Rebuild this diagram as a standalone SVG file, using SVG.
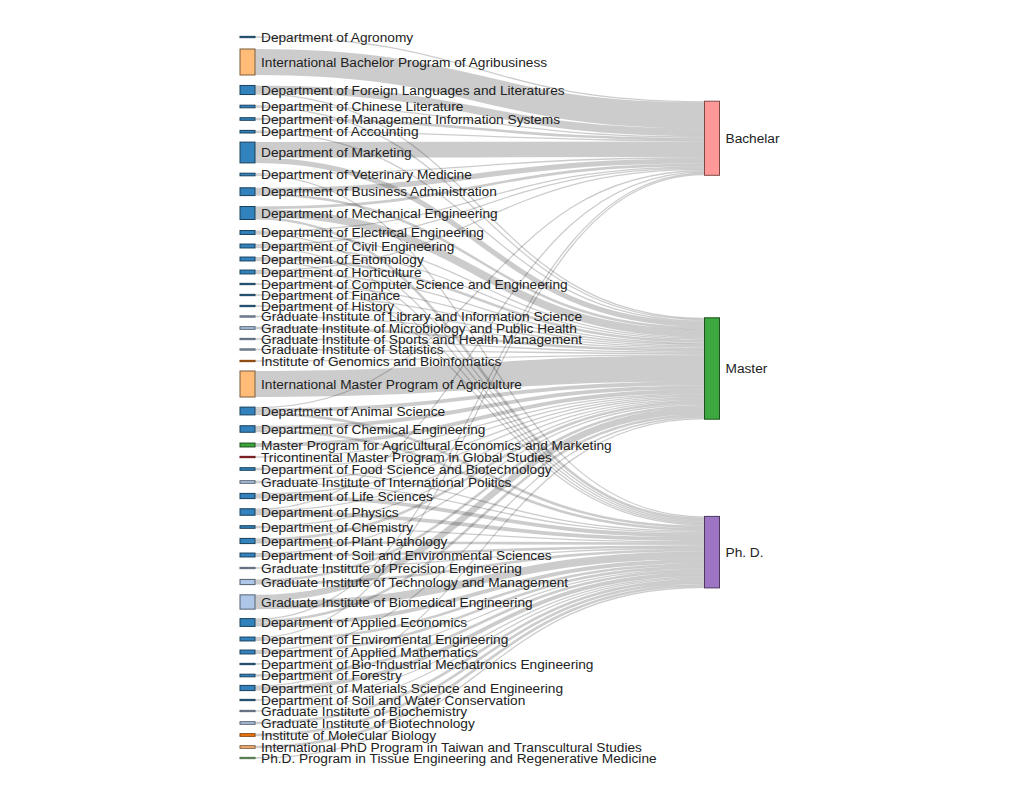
<svg xmlns="http://www.w3.org/2000/svg" width="1019" height="794" viewBox="0 0 1019 794">
<style>
.link{fill:none;stroke:#000;stroke-opacity:0.2}
.w1{stroke-width:1.3}.w2{stroke-width:2.6}.w3{stroke-width:3.9}.w4{stroke-width:5.2}.w5{stroke-width:6.5}.w6{stroke-width:7.8}.w12{stroke-width:15.6}.w20{stroke-width:26}
rect{stroke-width:1}
.dept{fill:#3182bd;stroke:#18405d}
.gi{fill:#aec7e8;stroke:#556171}
.intl{fill:#ffbb78;stroke:#7d5c3b}
.inst{fill:#ff7f0e;stroke:#7d3e07}
.mp{fill:#39a53b;stroke:#1c511d}
.tri{fill:#d62728;stroke:#691313}
.phdp{fill:#98df8a;stroke:#4a6d44}
.bach{fill:#ff9896;stroke:#7d4a49}
.mast{fill:#3ca83f;stroke:#1d521f}
.phd{fill:#9e75c4;stroke:#4d3960}
text{font-family:"Liberation Sans",Arial,sans-serif;font-size:13.7px;fill:#222}
</style>
<rect width="1019" height="794" fill="#fff"/>
<g id="links">
<path class="link w1" d="M255,37 C479.75,37 479.75,101.85 704.5,101.85"/>
<path class="link w20" d="M255,62 C479.75,62 479.75,115.5 704.5,115.5"/>
<path class="link w6" d="M255,89.35 C479.75,89.35 479.75,132.4 704.5,132.4"/>
<path class="link w1" d="M255,105.85 C479.75,105.85 479.75,136.95 704.5,136.95"/>
<path class="link w2" d="M255,119 C479.75,119 479.75,138.9 704.5,138.9"/>
<path class="link w1" d="M255,131.05 C479.75,131.05 479.75,140.85 704.5,140.85"/>
<path class="link w12" d="M255,149.9 C479.75,149.9 479.75,149.3 704.5,149.3"/>
<path class="link w1" d="M255,173.85 C479.75,173.85 479.75,157.75 704.5,157.75"/>
<path class="link w4" d="M255,190.4 C479.75,190.4 479.75,161 704.5,161"/>
<path class="link w2" d="M255,207.8 C479.75,207.8 479.75,164.9 704.5,164.9"/>
<path class="link w1" d="M255,231.2 C479.75,231.2 479.75,166.85 704.5,166.85"/>
<path class="link w1" d="M255,244.7 C479.75,244.7 479.75,168.15 704.5,168.15"/>
<path class="link w1" d="M255,270.7 C479.75,270.7 479.75,169.45 704.5,169.45"/>
<path class="link w1" d="M255,407.75 C479.75,407.75 479.75,170.75 704.5,170.75"/>
<path class="link w1" d="M255,509.4 C479.75,509.4 479.75,172.05 704.5,172.05"/>
<path class="link w1" d="M255,619.25 C479.75,619.25 479.75,173.35 704.5,173.35"/>
<path class="link w1" d="M255,637.7 C479.75,637.7 479.75,174.65 704.5,174.65"/>
<path class="link w1" d="M255,93.9 C479.75,93.9 479.75,318.45 704.5,318.45"/>
<path class="link w1" d="M255,107.15 C479.75,107.15 479.75,319.75 704.5,319.75"/>
<path class="link w1" d="M255,132.35 C479.75,132.35 479.75,321.05 704.5,321.05"/>
<path class="link w4" d="M255,160.3 C479.75,160.3 479.75,324.3 704.5,324.3"/>
<path class="link w2" d="M255,194.3 C479.75,194.3 479.75,328.2 704.5,328.2"/>
<path class="link w6" d="M255,213 C479.75,213 479.75,333.4 704.5,333.4"/>
<path class="link w1" d="M255,232.5 C479.75,232.5 479.75,337.95 704.5,337.95"/>
<path class="link w1" d="M255,246 C479.75,246 479.75,339.25 704.5,339.25"/>
<path class="link w2" d="M255,258.35 C479.75,258.35 479.75,341.2 704.5,341.2"/>
<path class="link w1" d="M255,272 C479.75,272 479.75,343.15 704.5,343.15"/>
<path class="link w1" d="M255,284 C479.75,284 479.75,344.45 704.5,344.45"/>
<path class="link w1" d="M255,295 C479.75,295 479.75,345.75 704.5,345.75"/>
<path class="link w1" d="M255,306 C479.75,306 479.75,347.05 704.5,347.05"/>
<path class="link w1" d="M255,316.5 C479.75,316.5 479.75,348.35 704.5,348.35"/>
<path class="link w2" d="M255,328 C479.75,328 479.75,350.3 704.5,350.3"/>
<path class="link w1" d="M255,339 C479.75,339 479.75,352.25 704.5,352.25"/>
<path class="link w1" d="M255,349.5 C479.75,349.5 479.75,353.55 704.5,353.55"/>
<path class="link w1" d="M255,361 C479.75,361 479.75,354.85 704.5,354.85"/>
<path class="link w20" d="M255,384 C479.75,384 479.75,368.5 704.5,368.5"/>
<path class="link w3" d="M255,410.35 C479.75,410.35 479.75,383.45 704.5,383.45"/>
<path class="link w3" d="M255,427.7 C479.75,427.7 479.75,387.35 704.5,387.35"/>
<path class="link w3" d="M255,445 C479.75,445 479.75,391.25 704.5,391.25"/>
<path class="link w1" d="M255,457 C479.75,457 479.75,393.85 704.5,393.85"/>
<path class="link w1" d="M255,468.35 C479.75,468.35 479.75,395.15 704.5,395.15"/>
<path class="link w1" d="M255,481.35 C479.75,481.35 479.75,396.45 704.5,396.45"/>
<path class="link w1" d="M255,494.05 C479.75,494.05 479.75,397.75 704.5,397.75"/>
<path class="link w1" d="M255,510.7 C479.75,510.7 479.75,399.05 704.5,399.05"/>
<path class="link w1" d="M255,526.35 C479.75,526.35 479.75,400.35 704.5,400.35"/>
<path class="link w2" d="M255,539.7 C479.75,539.7 479.75,402.3 704.5,402.3"/>
<path class="link w1" d="M255,553.7 C479.75,553.7 479.75,404.25 704.5,404.25"/>
<path class="link w2" d="M255,580.7 C479.75,580.7 479.75,406.2 704.5,406.2"/>
<path class="link w5" d="M255,598.1 C479.75,598.1 479.75,410.75 704.5,410.75"/>
<path class="link w2" d="M255,621.2 C479.75,621.2 479.75,415.3 704.5,415.3"/>
<path class="link w1" d="M255,650.7 C479.75,650.7 479.75,417.25 704.5,417.25"/>
<path class="link w1" d="M255,686.05 C479.75,686.05 479.75,418.55 704.5,418.55"/>
<path class="link w1" d="M255,175.15 C479.75,175.15 479.75,517.05 704.5,517.05"/>
<path class="link w2" d="M255,218.2 C479.75,218.2 479.75,519 704.5,519"/>
<path class="link w1" d="M255,233.8 C479.75,233.8 479.75,520.95 704.5,520.95"/>
<path class="link w1" d="M255,247.3 C479.75,247.3 479.75,522.25 704.5,522.25"/>
<path class="link w1" d="M255,260.3 C479.75,260.3 479.75,523.55 704.5,523.55"/>
<path class="link w1" d="M255,273.3 C479.75,273.3 479.75,524.85 704.5,524.85"/>
<path class="link w2" d="M255,413.6 C479.75,413.6 479.75,526.8 704.5,526.8"/>
<path class="link w2" d="M255,430.95 C479.75,430.95 479.75,529.4 704.5,529.4"/>
<path class="link w1" d="M255,469.65 C479.75,469.65 479.75,531.35 704.5,531.35"/>
<path class="link w1" d="M255,482.65 C479.75,482.65 479.75,532.65 704.5,532.65"/>
<path class="link w3" d="M255,496.65 C479.75,496.65 479.75,535.25 704.5,535.25"/>
<path class="link w3" d="M255,513.3 C479.75,513.3 479.75,539.15 704.5,539.15"/>
<path class="link w1" d="M255,527.65 C479.75,527.65 479.75,541.75 704.5,541.75"/>
<path class="link w2" d="M255,542.3 C479.75,542.3 479.75,543.7 704.5,543.7"/>
<path class="link w2" d="M255,555.65 C479.75,555.65 479.75,546.3 704.5,546.3"/>
<path class="link w1" d="M255,568 C479.75,568 479.75,548.25 704.5,548.25"/>
<path class="link w2" d="M255,583.3 C479.75,583.3 479.75,550.2 704.5,550.2"/>
<path class="link w6" d="M255,605.25 C479.75,605.25 479.75,555.4 704.5,555.4"/>
<path class="link w3" d="M255,624.45 C479.75,624.45 479.75,561.25 704.5,561.25"/>
<path class="link w2" d="M255,639.65 C479.75,639.65 479.75,564.5 704.5,564.5"/>
<path class="link w2" d="M255,652.65 C479.75,652.65 479.75,567.1 704.5,567.1"/>
<path class="link w1" d="M255,664 C479.75,664 479.75,569.05 704.5,569.05"/>
<path class="link w2" d="M255,675.5 C479.75,675.5 479.75,571 704.5,571"/>
<path class="link w3" d="M255,688.65 C479.75,688.65 479.75,574.25 704.5,574.25"/>
<path class="link w1" d="M255,700 C479.75,700 479.75,576.85 704.5,576.85"/>
<path class="link w1" d="M255,711 C479.75,711 479.75,578.15 704.5,578.15"/>
<path class="link w2" d="M255,723 C479.75,723 479.75,580.1 704.5,580.1"/>
<path class="link w2" d="M255,735 C479.75,735 479.75,582.7 704.5,582.7"/>
<path class="link w2" d="M255,747 C479.75,747 479.75,585.3 704.5,585.3"/>
<path class="link w1" d="M255,758 C479.75,758 479.75,587.25 704.5,587.25"/>
</g>
<g id="n01"><rect class="dept" x="240" y="36.35" width="15" height="1.3"/><text x="261" y="37" dy="0.35em">Department of Agronomy</text></g>
<g id="n02"><rect class="intl" x="240" y="49" width="15" height="26"/><text x="261" y="62" dy="0.35em">International Bachelor Program of Agribusiness</text></g>
<g id="n03"><rect class="dept" x="240" y="85.45" width="15" height="9.1"/><text x="261" y="90" dy="0.35em">Department of Foreign Languages and Literatures</text></g>
<g id="n04"><rect class="dept" x="240" y="105.2" width="15" height="2.6"/><text x="261" y="106.5" dy="0.35em">Department of Chinese Literature</text></g>
<g id="n05"><rect class="dept" x="240" y="117.7" width="15" height="2.6"/><text x="261" y="119" dy="0.35em">Department of Management Information Systems</text></g>
<g id="n06"><rect class="dept" x="240" y="130.4" width="15" height="2.6"/><text x="261" y="131.7" dy="0.35em">Department of Accounting</text></g>
<g id="n07"><rect class="dept" x="240" y="142.1" width="15" height="20.8"/><text x="261" y="152.5" dy="0.35em">Department of Marketing</text></g>
<g id="n08"><rect class="dept" x="240" y="173.2" width="15" height="2.6"/><text x="261" y="174.5" dy="0.35em">Department of Veterinary Medicine</text></g>
<g id="n09"><rect class="dept" x="240" y="187.8" width="15" height="7.8"/><text x="261" y="191.7" dy="0.35em">Department of Business Administration</text></g>
<g id="n10"><rect class="dept" x="240" y="206.5" width="15" height="13"/><text x="261" y="213" dy="0.35em">Department of Mechanical Engineering</text></g>
<g id="n11"><rect class="dept" x="240" y="230.55" width="15" height="3.9"/><text x="261" y="232.5" dy="0.35em">Department of Electrical Engineering</text></g>
<g id="n12"><rect class="dept" x="240" y="244.05" width="15" height="3.9"/><text x="261" y="246" dy="0.35em">Department of Civil Engineering</text></g>
<g id="n13"><rect class="dept" x="240" y="257.05" width="15" height="3.9"/><text x="261" y="259" dy="0.35em">Department of Entomology</text></g>
<g id="n14"><rect class="dept" x="240" y="270.05" width="15" height="3.9"/><text x="261" y="272" dy="0.35em">Department of Horticulture</text></g>
<g id="n15"><rect class="dept" x="240" y="283.35" width="15" height="1.3"/><text x="261" y="284" dy="0.35em">Department of Computer Science and Engineering</text></g>
<g id="n16"><rect class="dept" x="240" y="294.35" width="15" height="1.3"/><text x="261" y="295" dy="0.35em">Department of Finance</text></g>
<g id="n17"><rect class="dept" x="240" y="305.35" width="15" height="1.3"/><text x="261" y="306" dy="0.35em">Department of History</text></g>
<g id="n18"><rect class="gi" x="240" y="315.85" width="15" height="1.3"/><text x="261" y="316.5" dy="0.35em">Graduate Institute of Library and Information Science</text></g>
<g id="n19"><rect class="gi" x="240" y="326.7" width="15" height="2.6"/><text x="261" y="328" dy="0.35em">Graduate Institute of Microbiology and Public Health</text></g>
<g id="n20"><rect class="gi" x="240" y="338.35" width="15" height="1.3"/><text x="261" y="339" dy="0.35em">Graduate Institute of Sports and Health Management</text></g>
<g id="n21"><rect class="gi" x="240" y="348.85" width="15" height="1.3"/><text x="261" y="349.5" dy="0.35em">Graduate Institute of Statistics</text></g>
<g id="n22"><rect class="inst" x="240" y="360.35" width="15" height="1.3"/><text x="261" y="361" dy="0.35em">Institute of Genomics and Bioinfomatics</text></g>
<g id="n23"><rect class="intl" x="240" y="371" width="15" height="26"/><text x="261" y="384" dy="0.35em">International Master Program of Agriculture</text></g>
<g id="n24"><rect class="dept" x="240" y="407.1" width="15" height="7.8"/><text x="261" y="411" dy="0.35em">Department of Animal Science</text></g>
<g id="n25"><rect class="dept" x="240" y="425.75" width="15" height="6.5"/><text x="261" y="429" dy="0.35em">Department of Chemical Engineering</text></g>
<g id="n26"><rect class="mp" x="240" y="443.05" width="15" height="3.9"/><text x="261" y="445" dy="0.35em">Master Program for Agricultural Economics and Marketing</text></g>
<g id="n27"><rect class="tri" x="240" y="456.35" width="15" height="1.3"/><text x="261" y="457" dy="0.35em">Tricontinental Master Program in Global Studies</text></g>
<g id="n28"><rect class="dept" x="240" y="467.7" width="15" height="2.6"/><text x="261" y="469" dy="0.35em">Department of Food Science and Biotechnology</text></g>
<g id="n29"><rect class="gi" x="240" y="480.7" width="15" height="2.6"/><text x="261" y="482" dy="0.35em">Graduate Institute of International Politics</text></g>
<g id="n30"><rect class="dept" x="240" y="493.4" width="15" height="5.2"/><text x="261" y="496" dy="0.35em">Department of Life Sciences</text></g>
<g id="n31"><rect class="dept" x="240" y="508.75" width="15" height="6.5"/><text x="261" y="512" dy="0.35em">Department of Physics</text></g>
<g id="n32"><rect class="dept" x="240" y="525.7" width="15" height="2.6"/><text x="261" y="527" dy="0.35em">Department of Chemistry</text></g>
<g id="n33"><rect class="dept" x="240" y="538.4" width="15" height="5.2"/><text x="261" y="541" dy="0.35em">Department of Plant Pathology</text></g>
<g id="n34"><rect class="dept" x="240" y="553.05" width="15" height="3.9"/><text x="261" y="555" dy="0.35em">Department of Soil and Environmental Sciences</text></g>
<g id="n35"><rect class="gi" x="240" y="567.35" width="15" height="1.3"/><text x="261" y="568" dy="0.35em">Graduate Institute of Precision Engineering</text></g>
<g id="n36"><rect class="gi" x="240" y="579.4" width="15" height="5.2"/><text x="261" y="582" dy="0.35em">Graduate Institute of Technology and Management</text></g>
<g id="n37"><rect class="gi" x="240" y="594.85" width="15" height="14.3"/><text x="261" y="602" dy="0.35em">Graduate Institute of Biomedical Engineering</text></g>
<g id="n38"><rect class="dept" x="240" y="618.6" width="15" height="7.8"/><text x="261" y="622.5" dy="0.35em">Department of Applied Economics</text></g>
<g id="n39"><rect class="dept" x="240" y="637.05" width="15" height="3.9"/><text x="261" y="639" dy="0.35em">Department of Enviromental Engineering</text></g>
<g id="n40"><rect class="dept" x="240" y="650.05" width="15" height="3.9"/><text x="261" y="652" dy="0.35em">Department of Applied Mathematics</text></g>
<g id="n41"><rect class="dept" x="240" y="663.35" width="15" height="1.3"/><text x="261" y="664" dy="0.35em">Department of Bio-Industrial Mechatronics Engineering</text></g>
<g id="n42"><rect class="dept" x="240" y="674.2" width="15" height="2.6"/><text x="261" y="675.5" dy="0.35em">Department of Forestry</text></g>
<g id="n43"><rect class="dept" x="240" y="685.4" width="15" height="5.2"/><text x="261" y="688" dy="0.35em">Department of Materials Science and Engineering</text></g>
<g id="n44"><rect class="dept" x="240" y="699.35" width="15" height="1.3"/><text x="261" y="700" dy="0.35em">Department of Soil and Water Conservation</text></g>
<g id="n45"><rect class="gi" x="240" y="710.35" width="15" height="1.3"/><text x="261" y="711" dy="0.35em">Graduate Institute of Biochemistry</text></g>
<g id="n46"><rect class="gi" x="240" y="721.7" width="15" height="2.6"/><text x="261" y="723" dy="0.35em">Graduate Institute of Biotechnology</text></g>
<g id="n47"><rect class="inst" x="240" y="733.7" width="15" height="2.6"/><text x="261" y="735" dy="0.35em">Institute of Molecular Biology</text></g>
<g id="n48"><rect class="intl" x="240" y="745.7" width="15" height="2.6"/><text x="261" y="747" dy="0.35em">International PhD Program in Taiwan and Transcultural Studies</text></g>
<g id="n49"><rect class="phdp" x="240" y="757.35" width="15" height="1.3"/><text x="261" y="758" dy="0.35em">Ph.D. Program in Tissue Engineering and Regenerative Medicine</text></g>
<g id="bachelar"><rect class="bach" x="704.5" y="101.2" width="15" height="74.1"/><text x="725.5" y="138.3" dy="0.35em">Bachelar</text></g>
<g id="master"><rect class="mast" x="704.5" y="317.8" width="15" height="101.4"/><text x="725.5" y="368.5" dy="0.35em">Master</text></g>
<g id="phd"><rect class="phd" x="704.5" y="516.4" width="15" height="71.5"/><text x="725.5" y="552.2" dy="0.35em">Ph. D.</text></g>
</svg>
